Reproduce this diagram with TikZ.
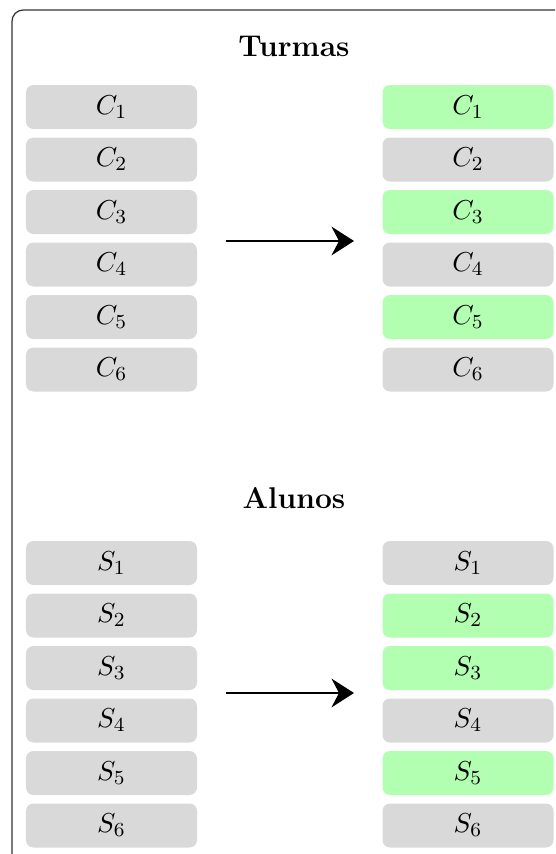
\documentclass[tikz,border=0pt]{standalone}
\usetikzlibrary{arrows.meta}
\begin{document}
\begin{tikzpicture}
      [x=0.4pt,y=-0.4pt,
      cell/.style={rounded corners=3pt,minimum width=68.4pt,minimum height=17.6pt,inner sep=0pt,
        font=\fontsize{11pt}{13pt}\selectfont},
      off cell/.style={cell,fill=black!15},
      on cell/.style={cell,fill=green!30},
      title/.style={font=\large\bfseries},
      move/.style={line width=0.8pt,-{Stealth[length=9pt,width=11.5pt,inset=3pt]}}]
      \useasboundingbox (0,0) rectangle (555,854);
      % outer frame, only its top left part shows
      \begin{scope}
        \clip (0,0) rectangle (555,854);
        \draw[black!80,line width=0.5pt,rounded corners=4.5pt] (12,10) rectangle (590,900);
      \end{scope}
      % classes
      \node[title] (turmas) at (294,46) {Turmas};
      \node[off cell] (c1) at (111.5,107) {$C_1$};
      \node[off cell] (c2) at (111.5,159.5) {$C_2$};
      \node[off cell] (c3) at (111.5,212) {$C_3$};
      \node[off cell] (c4) at (111.5,264.5) {$C_4$};
      \node[off cell] (c5) at (111.5,317) {$C_5$};
      \node[off cell] (c6) at (111.5,369.5) {$C_6$};
      \node[on cell] (c1') at (468,107) {$C_1$};
      \node[off cell] (c2') at (468,159.5) {$C_2$};
      \node[on cell] (c3') at (468,212) {$C_3$};
      \node[off cell] (c4') at (468,264.5) {$C_4$};
      \node[on cell] (c5') at (468,317) {$C_5$};
      \node[off cell] (c6') at (468,369.5) {$C_6$};
      \coordinate (ca) at (226,241);
      \coordinate (cb) at (354,241);
      \path (ca) edge[move] (cb);
      % students
      \node[title] (alunos) at (294,498) {Alunos};
      \node[off cell] (s1) at (111.5,563) {$S_1$};
      \node[off cell] (s2) at (111.5,615.5) {$S_2$};
      \node[off cell] (s3) at (111.5,668) {$S_3$};
      \node[off cell] (s4) at (111.5,720.5) {$S_4$};
      \node[off cell] (s5) at (111.5,773) {$S_5$};
      \node[off cell] (s6) at (111.5,825.5) {$S_6$};
      \node[off cell] (s1') at (468,563) {$S_1$};
      \node[on cell] (s2') at (468,615.5) {$S_2$};
      \node[on cell] (s3') at (468,668) {$S_3$};
      \node[off cell] (s4') at (468,720.5) {$S_4$};
      \node[on cell] (s5') at (468,773) {$S_5$};
      \node[off cell] (s6') at (468,825.5) {$S_6$};
      \coordinate (sa) at (226,693);
      \coordinate (sb) at (354,693);
      \path (sa) edge[move] (sb);
    \end{tikzpicture}
\end{document}
